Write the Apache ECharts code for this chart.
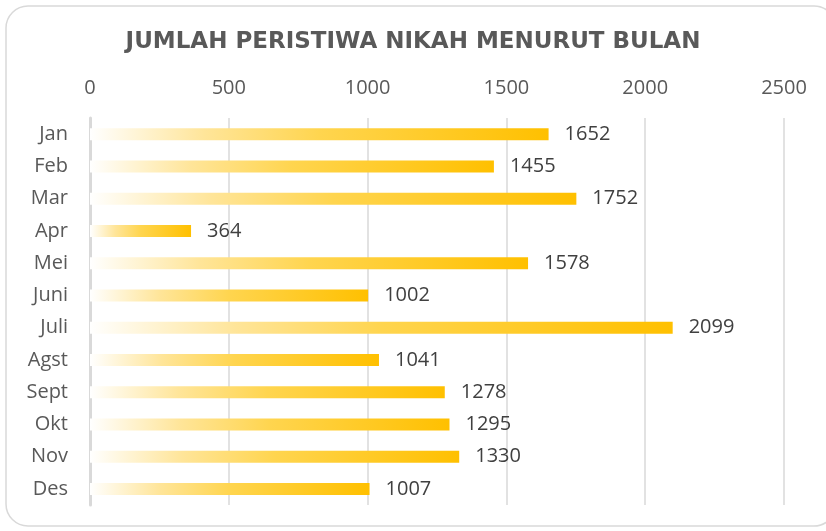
<!DOCTYPE html>
<html>
<head>
<meta charset="utf-8">
<script src="https://cdn.jsdelivr.net/npm/echarts@6/dist/echarts.min.js"></script>
<style>
  html, body { margin: 0; padding: 0; background: #fff; }
  #chart { width: 826px; height: 531px; }
</style>
</head>
<body>
<div id="chart"></div>
<script>
// data
var months = ['Jan', 'Feb', 'Mar', 'Apr', 'Mei', 'Juni', 'Juli', 'Agst', 'Sept', 'Okt', 'Nov', 'Des'];
var nikah = [1652, 1455, 1752, 364, 1578, 1002, 2099, 1041, 1278, 1295, 1330, 1007];

var chart = echarts.init(document.getElementById('chart'));

var option = {
    animation: false,
    title: {
        text: 'JUMLAH PERISTIWA NIKAH MENURUT BULAN',
        left: 'center',
        top: 26,
        textStyle: {
            fontFamily: 'DejaVu Sans',
            fontWeight: 'bold',
            fontSize: 23,
            color: '#595959'
        }
    },
    graphic: [{
        type: 'rect',
        shape: { x: 6, y: 6, width: 830, height: 520, r: 22 },
        style: { fill: 'none', stroke: '#d9d9d9', lineWidth: 1.5 },
        silent: true
    }],
    grid: {
        left: 90,
        right: 42,
        top: 118,
        bottom: 26
    },
    xAxis: {
        type: 'value',
        position: 'top',
        min: 0,
        max: 2500,
        interval: 500,
        axisLine: { show: false },
        axisTick: { show: false },
        axisLabel: {
            margin: 20,
            fontFamily: 'Open Sans',
            fontSize: 20,
            color: '#595959',
            formatter: function (v) { return String(v); }
        },
        splitLine: { lineStyle: { color: '#d9d9d9', width: 1.5 } }
    },
    yAxis: {
        type: 'category',
        inverse: true,
        data: months,
        axisLine: { lineStyle: { color: '#d9d9d9', width: 3 } },
        axisTick: { show: false },
        axisLabel: {
            margin: 22,
            fontFamily: 'Open Sans',
            fontSize: 20,
            color: '#595959'
        }
    },
    series: [{
        type: 'bar',
        data: nikah,
        barWidth: 12,
        itemStyle: {
            color: new echarts.graphic.LinearGradient(0, 0, 1, 0, [
                { offset: 0, color: '#ffffff' },
                { offset: 0.25, color: '#ffe599' },
                { offset: 0.5, color: '#ffd54f' },
                { offset: 1, color: '#ffc000' }
            ])
        },
        label: {
            show: true,
            position: 'right',
            distance: 16,
            fontFamily: 'Open Sans',
            fontSize: 20,
            color: '#404040'
        }
    }]
};

chart.setOption(option);
</script>
</body>
</html>
